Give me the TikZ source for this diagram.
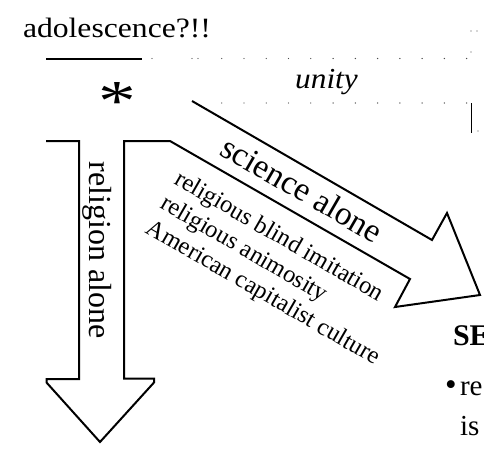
\documentclass[tikz,border=0pt]{standalone}
\usepackage{fontspec}
\setmainfont{Liberation Serif}
\begin{document}
\begin{tikzpicture}[x=1pt,y=-1pt,
  outline/.style={line width=2pt, line join=miter, miter limit=10},
  lbl/.style={inner sep=0pt, outer sep=0pt},
  dotmark/.style={fill=black!70}]
\useasboundingbox (0,0) rectangle (484,450);
\clip (0,0) rectangle (484,450);

% title
\node[lbl, anchor=base west] (title) at (23,37.5)
  {\fontsize{28}{32}\selectfont\scalebox{1.13}[1]{adolescence?!!}};

% rule under title
\coordinate (ruleL) at (46,59);
\coordinate (ruleR) at (142,59);
\draw[line width=2pt] (ruleL) -- (ruleR);

% dotted frame remnants
\foreach \x in {152,192,198} \fill[dotmark] (\x,58.5) circle (0.7);
\foreach \i in {0,...,11} {
  \fill[dotmark] (221.7+22.27*\i,58.5) circle (0.7);
  \fill[dotmark] (221.7+22.27*\i,103) circle (0.7);
}
\fill[dotmark] (471,31) circle (0.7);
\fill[dotmark] (477,31) circle (0.7);
\fill[dotmark] (471,52) circle (0.7);
\fill[dotmark] (478,131) circle (0.7);
\draw[line width=1.5pt] (471.5,103) -- (471.5,133);

% unity
\node[lbl, anchor=base] (unity) at (326.5,88)
  {\fontsize{29}{32}\selectfont\scalebox{1.08}[1]{\itshape unity}};

% asterisk
\node[lbl, anchor=base] (star) at (117,120)
  {\fontsize{58}{58}\selectfont\scalebox{1.3}[1]{*}};

% arrows outline
\draw[outline] (46,141) -- (79,141) -- (79,379) -- (46.5,379) -- (46.5,382.5)
  -- (100,442) -- (154,382.5) -- (154,378.5) -- (124,378.5) -- (124,141)
  -- (170,141) -- (410,279) -- (395,307) -- (480,295) -- (447,213)
  -- (432,240) -- (192,101);

% arrow labels
\node[lbl, rotate=-90] (rel) at (97,250)
  {\fontsize{32}{34}\selectfont religion alone};
\node[lbl, rotate=-30] (sci) at (302,189)
  {\fontsize{33.5}{36}\selectfont science alone};
\node[lbl, rotate=-30, align=left, font=\fontsize{24.5}{28.5}\selectfont] (list) at (277,269)
  {religious blind imitation\\religious animosity\\American capitalist culture};

% cut-off slide text at right
\node[lbl, anchor=base west] (se) at (453,345)
  {\fontsize{30}{34}\selectfont\bfseries SE};
\node[lbl, anchor=base] (bul) at (451,395)
  {\fontsize{33}{34}\selectfont •};
\node[lbl, anchor=base west] (re) at (460,395)
  {\fontsize{29}{34}\selectfont re};
\node[lbl, anchor=base west] (is) at (460,435)
  {\fontsize{29}{34}\selectfont is};
\end{tikzpicture}
\end{document}
